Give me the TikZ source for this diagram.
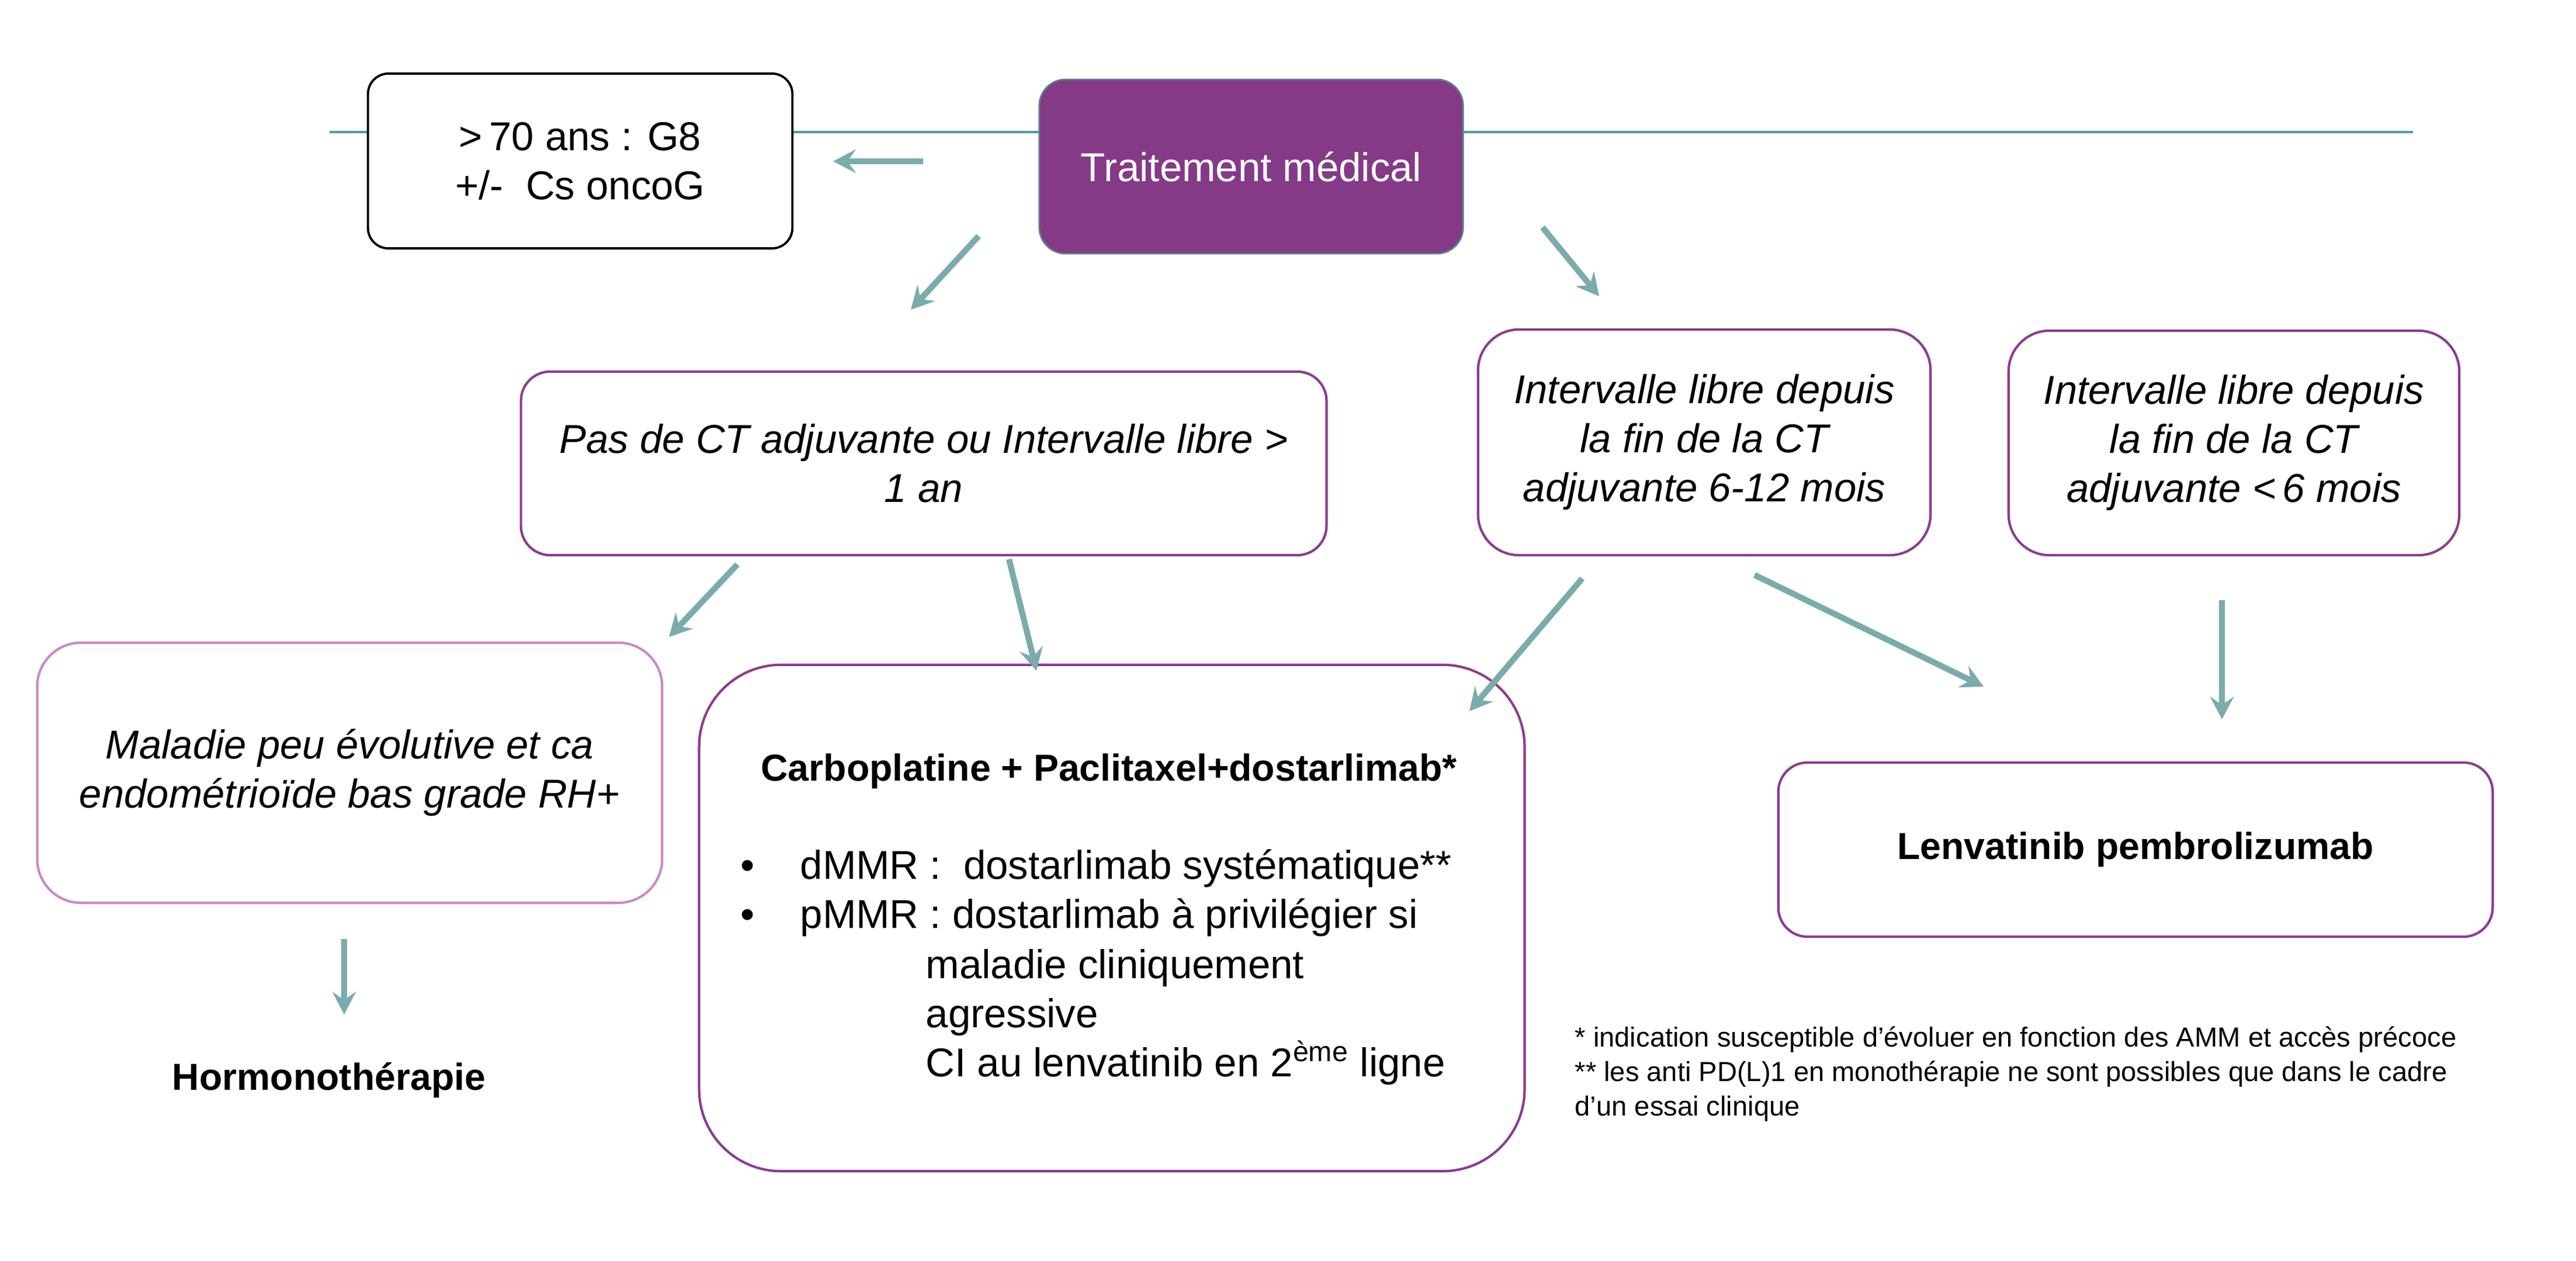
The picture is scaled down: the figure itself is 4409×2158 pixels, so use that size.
\documentclass[tikz,border=0pt]{standalone}
\usepackage{fontspec}
\setmainfont{Liberation Sans}
\usetikzlibrary{arrows.meta}
\definecolor{tealline}{HTML}{4E9DA4}
\definecolor{arrowc}{HTML}{7BABAB}
\definecolor{purp}{HTML}{8B3D8F}
\definecolor{purpfill}{HTML}{843A86}
\definecolor{lightpurp}{HTML}{C88BC7}
\definecolor{trborder}{HTML}{5E7F8C}
\newcommand{\regtxt}{\fontsize{19.6}{23.9}\selectfont}
\newcommand{\boldtxt}{\fontsize{18.3}{22}\selectfont\bfseries}
\newcommand{\foottxt}{\fontsize{13.4}{16.8}\selectfont}
\begin{document}
\begin{tikzpicture}[x=0.01cm,y=-0.01cm,
  box/.style={draw=purp, line width=1.2pt, fill=white, inner sep=0pt, align=center, font=\regtxt\itshape},
  arr/.style={draw=arrowc, line width=2.9pt, -{Stealth[length=11pt,width=11.5pt,inset=4pt]}},
  linetxt/.style={inner sep=0pt, text height=0.72em, text depth=0pt, anchor=west, font=\regtxt},
  foottx/.style={inner sep=0pt, text height=0.72em, text depth=0pt, anchor=west, font=\foottxt}]
\useasboundingbox[fill=white] (0,0) rectangle (4409,2158);
% top teal rule
\coordinate (ruleL) at (564,226);
\coordinate (ruleR) at (4130,226);
\draw[tealline, line width=1pt] (ruleL) -- (ruleR);
% boxes
\node[draw=black, line width=1.1pt, fill=white, rounded corners=0.35cm, inner sep=0pt, align=center,
      minimum width=7.26cm, minimum height=2.99cm, font=\regtxt] (age) at (993,275.5)
      {>\,70 ans : G8\\+/-\ \ Cs oncoG};
\node[draw=trborder, line width=0.8pt, fill=purpfill, rounded corners=0.45cm, inner sep=0pt,
      minimum width=7.25cm, minimum height=2.98cm, text=white, font=\regtxt] (trait) at (2141.5,285)
      {Traitement médical};
\node[box, rounded corners=0.5cm, minimum width=13.78cm, minimum height=3.14cm] (pas) at (1581,793)
      {Pas de CT adjuvante ou Intervalle libre >\\1 an};
\node[box, rounded corners=0.7cm, minimum width=7.74cm, minimum height=3.86cm] (int612) at (2917,757)
      {Intervalle libre depuis\\la fin de la CT\\adjuvante 6-12 mois};
\node[box, rounded corners=0.7cm, minimum width=7.71cm, minimum height=3.84cm] (int6) at (3823.5,758)
      {Intervalle libre depuis\\la fin de la CT\\adjuvante <\,6 mois};
\node[box, draw=lightpurp, rounded corners=0.75cm, minimum width=10.69cm, minimum height=4.45cm] (mal) at (598.5,1322.5)
      {Maladie peu évolutive et ca\\endométrioïde bas grade RH+};
\node[box, rounded corners=1.4cm, minimum width=14.12cm, minimum height=8.66cm] (carbo) at (1903,1571) {};
\node[box, rounded corners=0.5cm, minimum width=12.22cm, minimum height=2.98cm, font=\boldtxt] (lenva) at (3655,1454)
      {Lenvatinib pembrolizumab};
% carbo content
\node[inner sep=0pt, font=\boldtxt] (ctitle) at (1898,1320) {Carboplatine + Paclitaxel+dostarlimab*};
\node[linetxt, anchor=center] (bul1) at (1280,1492) {•};
\node[linetxt, anchor=center] (bul2) at (1280,1576) {•};
\node[linetxt] (c1) at (1369,1492) {dMMR :\ \ dostarlimab systématique**};
\node[linetxt] (c2) at (1369,1576) {pMMR : dostarlimab à privilégier si};
\node[linetxt] (c3) at (1584,1662) {maladie cliniquement};
\node[linetxt] (c4) at (1584,1746) {agressive};
\node[linetxt] (c5) at (1584,1830) {CI au lenvatinib en 2\textsuperscript{ème} ligne};
% hormonotherapie
\node[inner sep=0pt, font=\boldtxt] (hormo) at (563,1849) {Hormonothérapie};
% footnotes
\node[foottx] (f1) at (2695,1779) {* indication susceptible d’évoluer en fonction des AMM et accès précoce};
\node[foottx] (f2) at (2695,1838) {** les anti PD(L)1 en monothérapie ne sont possibles que dans le cadre};
\node[foottx] (f3) at (2695,1897) {d’un essai clinique};
% arrow end points
\coordinate (a1s) at (1580,276);  \coordinate (a1e) at (1426,276);
\coordinate (a2s) at (1675,404);  \coordinate (a2e) at (1559,530);
\coordinate (a3s) at (2640,389);  \coordinate (a3e) at (2737,507);
\coordinate (a4s) at (1262,966);  \coordinate (a4e) at (1145,1090);
\coordinate (a5s) at (1727,957);  \coordinate (a5e) at (1774,1148);
\coordinate (a6s) at (2708,990);  \coordinate (a6e) at (2515,1217);
\coordinate (a7s) at (3003,984);  \coordinate (a7e) at (3395,1175);
\coordinate (a8s) at (3803,1027); \coordinate (a8e) at (3803,1231);
\coordinate (a9s) at (589,1607);  \coordinate (a9e) at (589,1736);
\foreach \i in {1,...,9} {\draw[arr] (a\i s) -- (a\i e);}
\end{tikzpicture}
\end{document}
